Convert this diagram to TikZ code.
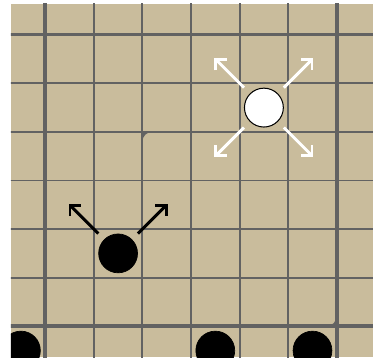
\documentclass[tikz,border=0pt]{standalone}
\usepackage{tikz}
\usetikzlibrary{arrows.meta,positioning,calc}

\definecolor{boardtan}{RGB}{201,188,156}
\definecolor{linegray}{RGB}{98,98,98}

\begin{document}
\begin{tikzpicture}[
  x=1cm,y=1cm,
  gridline/.style={draw=linegray,line width=1.1pt},
  frameline/.style={draw=linegray,line width=2.1pt},
  cornermark/.style={fill=linegray},
  bstone/.style={draw=black,fill=black,circle,minimum size=0.8cm,inner sep=0pt,line width=0.4pt},
  wstone/.style={draw=black,fill=white,circle,minimum size=0.8cm,inner sep=0pt,line width=0.6pt},
  arr/.style={-{Straight Barb[length=4.5pt,width=9pt]},line width=1.7pt,shorten <=0.17cm},
]

\useasboundingbox (-0.93,-0.632) rectangle (6.745,6.714);

%% ===== Board ================================================================
\fill[boardtan] (-0.704,-0.632) rectangle (6.745,6.632);

\begin{scope}
\clip (-0.704,-0.632) rectangle (6.745,6.632);

%% ===== Grid lines ===========================================================
\foreach \k in {1,...,5} {
  \draw[gridline] (\k,-0.7) -- (\k,6.7);
  \draw[gridline] (-0.8,\k) -- (6.8,\k);
}
\foreach \k in {0,6} {
  \draw[frameline] (\k,-0.7) -- (\k,6.7);
  \draw[frameline] (-0.8,\k) -- (6.8,\k);
}

%% ===== Corner marks =========================================================
\fill[cornermark] (2,4) -- ++(0.2,0) arc[start angle=90,end angle=180,radius=0.2] -- cycle;
\fill[cornermark] (6,0) -- ++(-0.22,0) arc[start angle=270,end angle=360,radius=0.22] -- cycle;

%% ===== Stones ===============================================================
\node[wstone] (white) at (4.5,4.5) {};
\node[bstone] (black) at (1.5,1.5) {};
\node[bstone] (edgeA) at (-0.5,-0.5) {};
\node[bstone] (edgeB) at (3.5,-0.5) {};
\node[bstone] (edgeC) at (5.5,-0.5) {};
\end{scope}

%% ===== Moves of the white stone ============================================
\coordinate (wNW) at ($(white)+(-1.02,1.02)$);
\coordinate (wNE) at ($(white)+(1.02,1.02)$);
\coordinate (wSW) at ($(white)+(-1.02,-1.02)$);
\coordinate (wSE) at ($(white)+(1.02,-1.02)$);
\draw[arr,white] (white) -- (wNW);
\draw[arr,white] (white) -- (wNE);
\draw[arr,white] (white) -- (wSW);
\draw[arr,white] (white) -- (wSE);

%% ===== Moves of the black stone ============================================
\coordinate (bNW) at ($(black)+(-1.02,1.02)$);
\coordinate (bNE) at ($(black)+(1.02,1.02)$);
\draw[arr,black] (black) -- (bNW);
\draw[arr,black] (black) -- (bNE);

\end{tikzpicture}
\end{document}
